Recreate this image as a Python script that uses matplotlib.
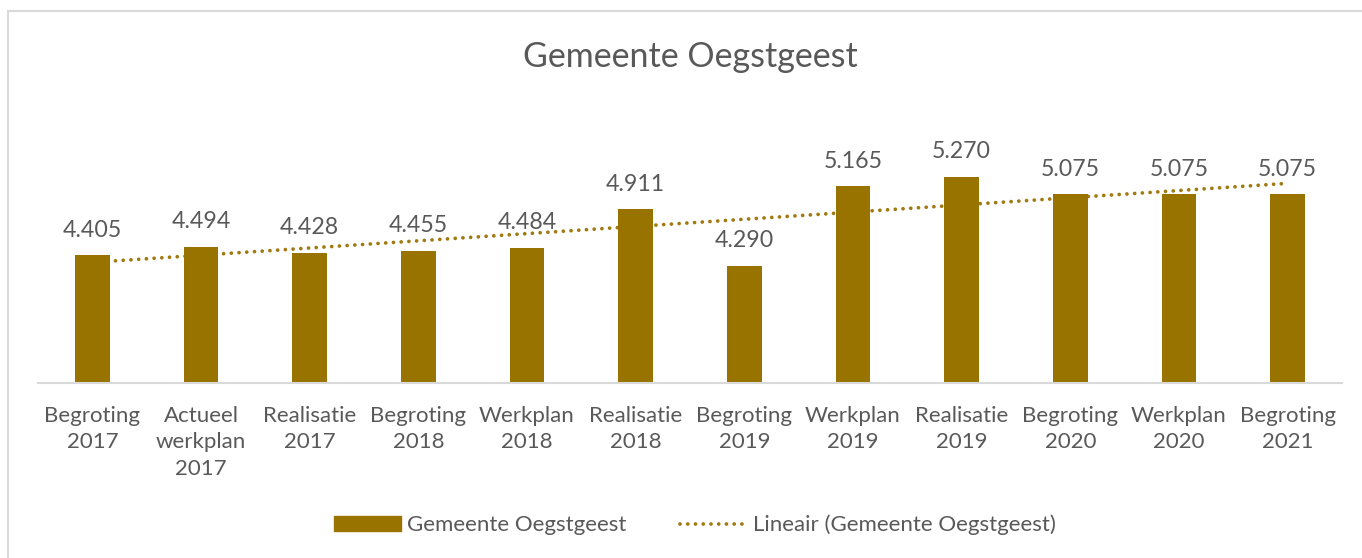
import matplotlib
matplotlib.use("Agg")
import matplotlib.pyplot as plt
from matplotlib.patches import Rectangle, Patch
from matplotlib.lines import Line2D
import numpy as np

plt.rcParams['font.family'] = ['Lato', 'DejaVu Sans']

categories = ["Begroting\n2017", "Actueel\nwerkplan\n2017", "Realisatie\n2017",
              "Begroting\n2018", "Werkplan\n2018", "Realisatie\n2018",
              "Begroting\n2019", "Werkplan\n2019", "Realisatie\n2019",
              "Begroting\n2020", "Werkplan\n2020", "Begroting\n2021"]
values = [4405, 4494, 4428, 4455, 4484, 4911, 4290, 5165, 5270, 5075, 5075, 5075]
series_name = "Gemeente Oegstgeest"
trend_name = "Lineair (Gemeente Oegstgeest)"
title = "Gemeente Oegstgeest"

bar_color = "#997300"
dot_color = "#a07a10"
text_color = "#595959"
dot_lw = 2.7
dot_style = (0, (0.01, 7.7 * 0.72 / dot_lw))

W, H = 1362, 558
fig = plt.figure(figsize=(W / 100, H / 100), dpi=100)
fig.patches.append(Rectangle((8 / W, -0.1), 1.2, 1 - 11 / H + 0.1, transform=fig.transFigure,
                             fill=False, edgecolor="#d9d9d9", linewidth=1.5))

ax = fig.add_axes([38 / W, 175.3 / H, 1304 / W, 272.4 / H])
x = np.arange(len(values))
ax.bar(x, values, width=0.32, color=bar_color, zorder=3)

coef = np.polyfit(x, values, 1)
xt = np.array([x[0], x[-1]])
ax.plot(xt, np.polyval(coef, xt), linestyle=dot_style, color=dot_color,
        linewidth=dot_lw, dash_capstyle='round', zorder=2)

for xi, v in zip(x, values):
    ax.annotate(f"{v:,}".replace(",", "."), (xi, v), xytext=(0, 10.5), textcoords="offset points",
                ha="center", va="bottom", fontsize=16.7, color=text_color)

ax.set_xlim(-0.5, len(values) - 0.5)
ax.set_ylim(3000, 6000)
ax.set_yticks([])
ax.set_xticks(x)
ax.set_xticklabels(categories, fontsize=16, color=text_color, linespacing=1.42)
ax.tick_params(axis='x', length=0, pad=16.5)
for s in ["top", "right", "left"]:
    ax.spines[s].set_visible(False)
ax.spines["bottom"].set_color("#d9d9d9")
ax.spines["bottom"].set_linewidth(1.5)
ax.spines["bottom"].set_zorder(4)

fig.text(690 / W, 1 - 57 / H, title, ha="center", va="center", fontsize=24.5, color=text_color)

handles = [Patch(facecolor=bar_color, edgecolor=bar_color),
           Line2D([0], [0], linestyle=dot_style, color=dot_color, linewidth=dot_lw,
                  dash_capstyle='round')]
leg = fig.legend(handles, [series_name, trend_name], loc="center",
                 bbox_to_anchor=(695 / W, 1 - 525 / H), ncol=2, frameon=False,
                 fontsize=16, handlelength=3.0, handleheight=0.6, handletextpad=0.3,
                 columnspacing=2.4)
for t in leg.get_texts():
    t.set_color(text_color)

fig.savefig("out.png", dpi=100)
